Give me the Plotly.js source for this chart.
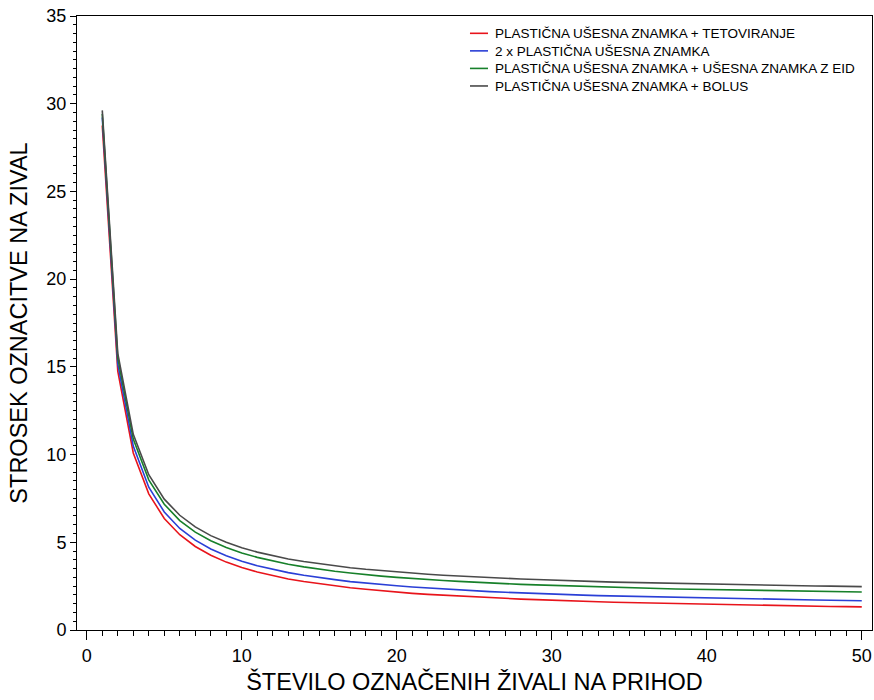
<!DOCTYPE html>
<html>
<head>
<meta charset="utf-8">
<script src="https://cdn.plot.ly/plotly-3.0.1.min.js"></script>
<style>
html,body{margin:0;padding:0;background:#fff;}
#chart{width:874px;height:700px;}
</style>
</head>
<body>
<div id="chart"></div>
<script>
// Number of tagged animals per arrival (x)
const nAnimals = [1,2,3,4,5,6,7,8,9,10,11,12,13,14,15,16,17,18,19,20,21,22,23,24,25,26,27,28,29,30,31,32,33,34,35,36,37,38,39,40,41,42,43,44,45,46,47,48,49,50];

// Series names
const seriesNames = [
  "PLASTIČNA UŠESNA ZNAMKA + TETOVIRANJE",
  "2 x PLASTIČNA UŠESNA ZNAMKA",
  "PLASTIČNA UŠESNA ZNAMKA + UŠESNA ZNAMKA Z EID",
  "PLASTIČNA UŠESNA ZNAMKA + BOLUS"
];

// Cost of tagging per animal (y)
const costTattoo = [28.76,14.76,10.09,7.76,6.36,5.43,4.76,4.26,3.87,3.56,3.31,3.09,2.91,2.76,2.63,2.51,2.41,2.32,2.23,2.16,2.09,2.03,1.98,1.93,1.88,1.84,1.80,1.76,1.73,1.69,1.66,1.64,1.61,1.58,1.56,1.54,1.52,1.50,1.48,1.46,1.44,1.43,1.41,1.40,1.38,1.37,1.36,1.34,1.33,1.32];
const costTwoTags = [29.21,15.16,10.48,8.14,6.73,5.79,5.12,4.62,4.23,3.92,3.66,3.45,3.27,3.12,2.98,2.87,2.76,2.67,2.59,2.52,2.45,2.39,2.33,2.28,2.23,2.19,2.15,2.11,2.08,2.05,2.02,1.99,1.96,1.94,1.91,1.89,1.87,1.85,1.83,1.81,1.80,1.78,1.76,1.75,1.73,1.72,1.71,1.70,1.68,1.67];
const costEid = [29.41,15.51,10.88,8.56,7.17,6.24,5.58,5.09,4.70,4.39,4.14,3.93,3.75,3.60,3.46,3.35,3.25,3.15,3.07,3.00,2.93,2.87,2.82,2.77,2.72,2.68,2.64,2.60,2.57,2.54,2.51,2.48,2.45,2.43,2.40,2.38,2.36,2.34,2.32,2.31,2.29,2.27,2.26,2.24,2.23,2.21,2.20,2.19,2.18,2.17];
const costBolus = [29.62,15.77,11.15,8.85,7.46,6.54,5.88,5.38,5.00,4.69,4.44,4.23,4.05,3.90,3.77,3.65,3.55,3.46,3.38,3.31,3.24,3.18,3.12,3.07,3.03,2.99,2.95,2.91,2.88,2.84,2.81,2.79,2.76,2.73,2.71,2.69,2.67,2.65,2.63,2.61,2.60,2.58,2.56,2.55,2.54,2.52,2.51,2.50,2.49,2.47];

const seriesValues = [costTattoo, costTwoTags, costEid, costBolus];
const seriesColors = ["#e8141b", "#2a3fd6", "#17802a", "#4a4a4a"];

const FONT = "Liberation Sans, Arial, Helvetica, sans-serif";

const traces = seriesValues.map((vals, i) => ({
  type: "scatter",
  mode: "lines",
  x: nAnimals,
  y: vals,
  name: seriesNames[i],
  showlegend: false,
  line: {color: seriesColors[i], width: 1.6}
}));

// Compact legend: one multi-line text block plus short colour swatches
const legendFontSize = 13.5;
const plotHeightPx = 614;
const legendStep = legendFontSize * 1.3 / plotHeightPx;
const legendFirstRow = 0.9718;
const legendLineX0 = 0.4943, legendLineX1 = 0.517, legendTextX = 0.525;
const annotations = [{
  xref: "paper", yref: "paper",
  x: legendTextX, y: legendFirstRow,
  xanchor: "left", yanchor: "top",
  yshift: legendFontSize * 1.3 / 2,
  align: "left",
  borderpad: 0,
  text: seriesNames.join("<br>"),
  showarrow: false,
  font: {family: FONT, size: legendFontSize, color: "#000"}
}];
const shapes = seriesColors.map((c, i) => ({
  type: "line", xref: "paper", yref: "paper",
  x0: legendLineX0, x1: legendLineX1,
  y0: legendFirstRow - i * legendStep, y1: legendFirstRow - i * legendStep,
  line: {color: c, width: 1.6}
}));

const layout = {
  width: 874,
  height: 700,
  margin: {l: 77, r: 2, t: 16, b: 70, pad: 0},
  paper_bgcolor: "#ffffff",
  plot_bgcolor: "#ffffff",
  font: {family: FONT, color: "#000000"},
  showlegend: false,
  annotations: annotations,
  shapes: shapes,
  xaxis: {
    range: [-0.63, 50.66],
    showgrid: false,
    zeroline: false,
    showline: true,
    linecolor: "#000",
    linewidth: 1,
    mirror: true,
    ticks: "outside",
    ticklen: 9,
    tickcolor: "#000",
    dtick: 10,
    tick0: 0,
    tickfont: {family: FONT, size: 18, color: "#000"},
    minor: {dtick: 1, ticks: "outside", ticklen: 5, tickcolor: "#000", showgrid: false},
    title: {text: "ŠTEVILO OZNAČENIH ŽIVALI NA PRIHOD", font: {family: FONT, size: 23.5, color: "#000"}, standoff: 8}
  },
  yaxis: {
    range: [0, 35],
    showgrid: false,
    zeroline: false,
    showline: true,
    linecolor: "#000",
    linewidth: 1,
    mirror: true,
    ticks: "outside",
    ticklen: 6,
    tickcolor: "#000",
    dtick: 5,
    tick0: 0,
    tickfont: {family: FONT, size: 18, color: "#000"},
    minor: {dtick: 0.5, ticks: "outside", ticklen: 3, tickcolor: "#000", showgrid: false},
    title: {text: "STROSEK OZNACITVE NA ZIVAL", font: {family: FONT, size: 23.5, color: "#000"}, standoff: 12}
  }
};

Plotly.newPlot("chart", traces, layout, {displayModeBar: false, staticPlot: true});
</script>
</body>
</html>
